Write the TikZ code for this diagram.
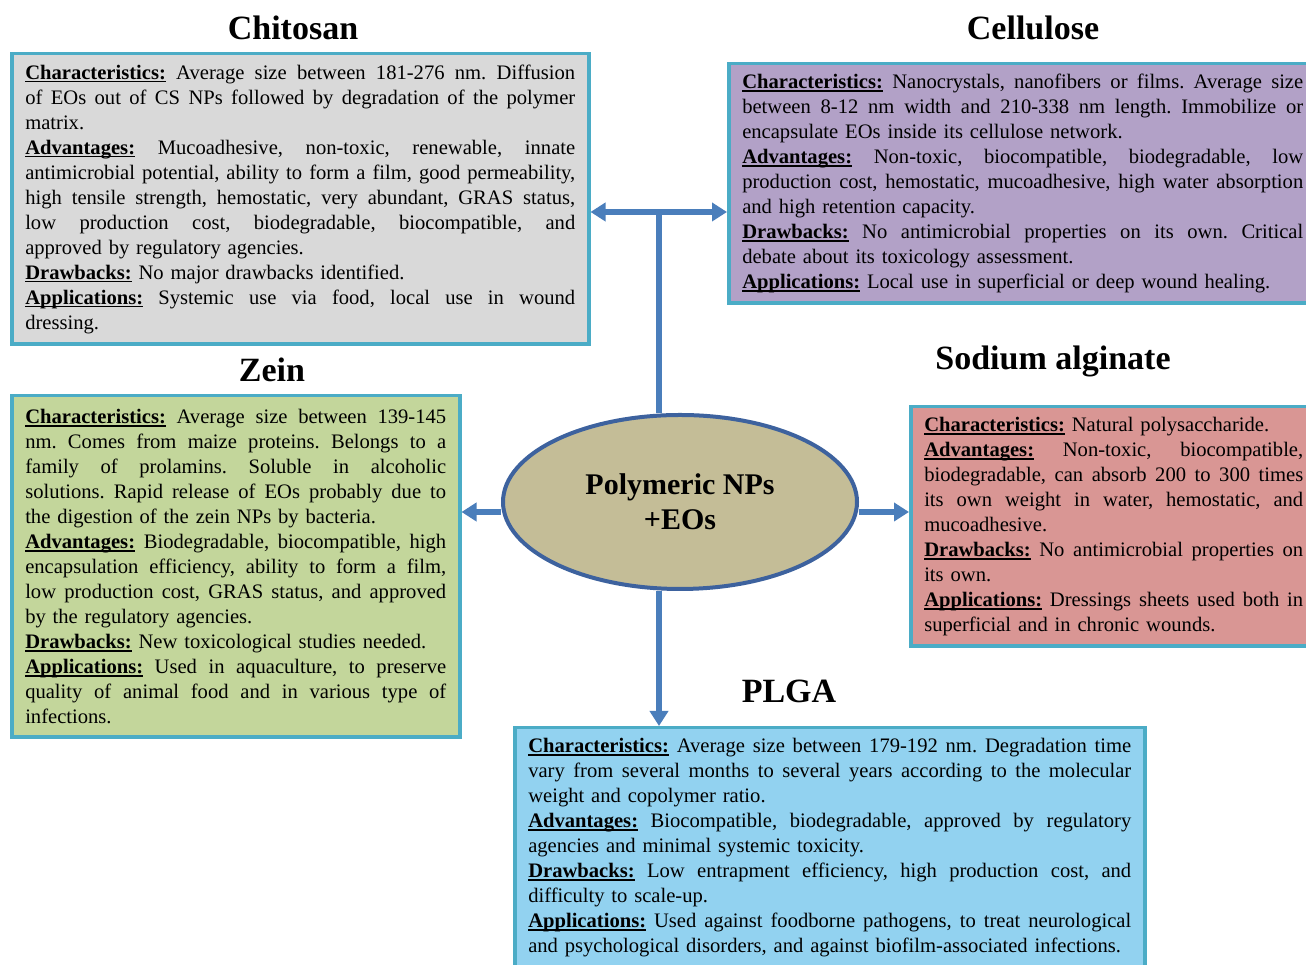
\documentclass[tikz,border=0pt]{standalone}
\usepackage{fontspec}
\setmainfont{Liberation Serif}
\usetikzlibrary{arrows.meta,shapes.geometric,backgrounds}
\definecolor{bordc}{RGB}{75,172,198}
\definecolor{arrc}{RGB}{74,126,187}
\definecolor{chic}{RGB}{217,217,217}
\definecolor{celc}{RGB}{178,161,199}
\definecolor{zeic}{RGB}{195,214,155}
\definecolor{algc}{RGB}{217,150,148}
\definecolor{plgc}{RGB}{146,210,240}
\definecolor{ellc}{RGB}{196,189,151}
\definecolor{elld}{RGB}{61,98,158}
\frenchspacing
\newsavebox\labbox
\newcommand\lab[1]{\sbox\labbox{\bfseries #1}\rlap{\rule[-3.4pt]{\wd\labbox}{1.8pt}}\usebox\labbox}
\newcommand\fl[1]{\hbox to\hsize{\spaceskip=.25em plus 1em minus .06em\xspaceskip=\spaceskip\relax #1}}
\newcommand\la[1]{\hbox to\hsize{#1\hfil}}
\tikzset{
  infobox/.style={draw=bordc, line width=3.5pt, anchor=north west, inner xsep=13.5pt, inner ysep=0pt,
    font=\fontsize{20.6}{25}\selectfont},
  ttl/.style={anchor=base, font=\fontsize{34}{40}\selectfont\bfseries, inner sep=0pt},
  conn/.style={draw=arrc, line width=5.5pt},
  tip/.style={-{Triangle[length=15pt,width=18pt]}},
  dtip/.style={{Triangle[length=15pt,width=18pt]}-{Triangle[length=15pt,width=18pt]}}
}
\begin{document}
\begin{tikzpicture}[x=1pt,y=1pt]
\useasboundingbox (0,0) rectangle (1306,965);

\node[ttl] (tchi) at (293,925) {Chitosan};
\node[ttl] (tcel) at (1033,925) {Cellulose};
\node[ttl] (tzei) at (272,583) {Zein};
\node[ttl] (talg) at (1053,595) {Sodium alginate};
\node[ttl] (tplg) at (789,262) {PLGA};

\node[infobox, fill=chic, text width=550pt, minimum height=290.5pt] (chi) at (10,913) {%
\fl{\lab{Characteristics:} Average size between 181-276 nm. Diffusion}
\fl{of EOs out of CS NPs followed by degradation of the polymer}
\la{matrix.}
\fl{\lab{Advantages:} Mucoadhesive, non-toxic, renewable, innate}
\fl{antimicrobial potential, ability to form a film, good permeability,}
\fl{high tensile strength, hemostatic, very abundant, GRAS status,}
\fl{low production cost, biodegradable, biocompatible, and}
\la{approved by regulatory agencies.}
\la{\lab{Drawbacks:} No major drawbacks identified.}
\fl{\lab{Applications:} Systemic use via food, local use in wound}
\la{dressing.}};

\node[infobox, fill=celc, text width=561pt, minimum height=239.5pt] (cel) at (727,903) {%
\fl{\lab{Characteristics:} Nanocrystals, nanofibers or films. Average size}
\fl{between 8-12 nm width and 210-338 nm length. Immobilize or}
\la{encapsulate EOs inside its cellulose network.}
\fl{\lab{Advantages:} Non-toxic, biocompatible, biodegradable, low}
\fl{production cost, hemostatic, mucoadhesive, high water absorption}
\la{and high retention capacity.}
\fl{\lab{Drawbacks:} No antimicrobial properties on its own. Critical}
\la{debate about its toxicology assessment.}
\la{\lab{Applications:} Local use in superficial or deep wound healing.}};

\node[infobox, fill=zeic, text width=421pt, minimum height=341.5pt] (zei) at (10,571) {%
\fl{\lab{Characteristics:} Average size between 139-145}
\fl{nm. Comes from maize proteins. Belongs to a}
\fl{family of prolamins. Soluble in alcoholic}
\fl{solutions. Rapid release of EOs probably due to}
\la{the digestion of the zein NPs by bacteria.}
\fl{\lab{Advantages:} Biodegradable, biocompatible, high}
\fl{encapsulation efficiency, ability to form a film,}
\fl{low production cost, GRAS status, and approved}
\la{by the regulatory agencies.}
\la{\lab{Drawbacks:} New toxicological studies needed.}
\fl{\lab{Applications:} Used in aquaculture, to preserve}
\fl{quality of animal food and in various type of}
\la{infections.}};

\node[infobox, fill=algc, text width=379pt, minimum height=239.5pt] (alg) at (909,560) {%
\la{\lab{Characteristics:} Natural polysaccharide.}
\fl{\lab{Advantages:} Non-toxic, biocompatible,}
\fl{biodegradable, can absorb 200 to 300 times}
\fl{its own weight in water, hemostatic, and}
\la{mucoadhesive.}
\fl{\lab{Drawbacks:} No antimicrobial properties on}
\la{its own.}
\fl{\lab{Applications:} Dressings sheets used both in}
\la{superficial and in chronic wounds.}};

\node[infobox, fill=plgc, text width=603pt, minimum height=239.5pt] (plg) at (513,239) {%
\fl{\lab{Characteristics:} Average size between 179-192 nm. Degradation time}
\fl{vary from several months to several years according to the molecular}
\la{weight and copolymer ratio.}
\fl{\lab{Advantages:} Biocompatible, biodegradable, approved by regulatory}
\la{agencies and minimal systemic toxicity.}
\fl{\lab{Drawbacks:} Low entrapment efficiency, high production cost, and}
\la{difficulty to scale-up.}
\fl{\lab{Applications:} Used against foodborne pathogens, to treat neurological}
\la{and psychological disorders, and against biofilm-associated infections.}};

\node[ellipse, draw=elld, line width=4pt, fill=ellc, minimum width=354pt, minimum height=174pt,
  align=center, font=\fontsize{30}{35}\selectfont\bfseries] (c) at (680,463) {Polymeric NPs\\+EOs};

\coordinate (hub) at (659,753);
\begin{scope}[on background layer]
\fill[white] (0,0) rectangle (1306,965);
\draw[conn, dtip] (chi.east |- hub) -- (cel.west |- hub);
\draw[conn] (hub) -- (hub |- c.north);
\draw[conn, tip] (hub |- c.south) -- (hub |- plg.north);
\draw[conn, tip] ([yshift=-10pt]c.west) -- ([yshift=-10pt]c.west -| zei.east);
\draw[conn, tip] ([yshift=-10pt]c.east) -- ([yshift=-10pt]c.east -| alg.west);
\end{scope}
\end{tikzpicture}
\end{document}
